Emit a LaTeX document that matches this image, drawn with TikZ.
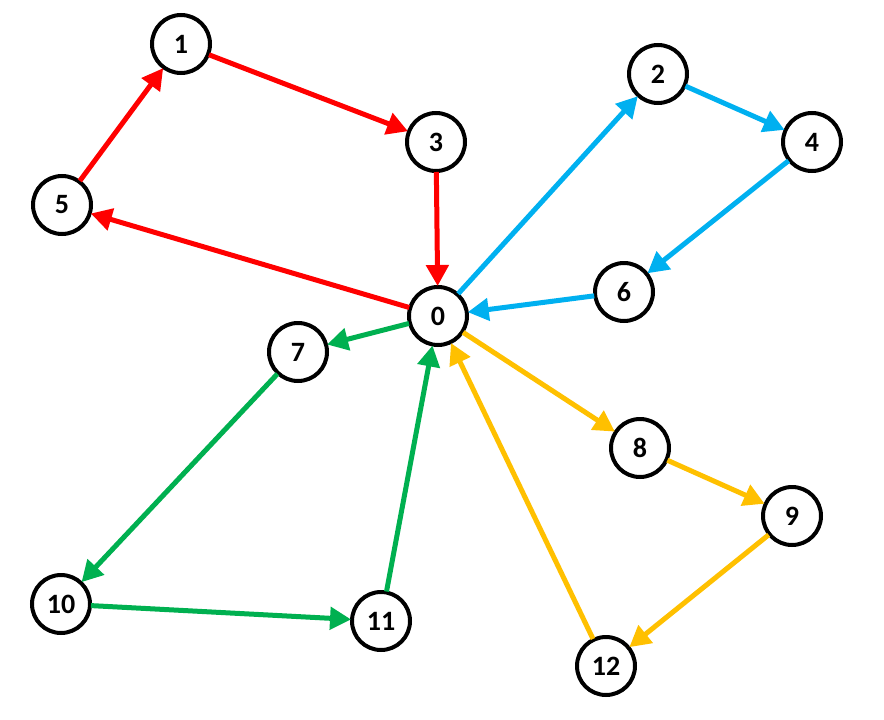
\documentclass[tikz,border=0pt]{standalone}
\usepackage{fontspec}
\setmainfont{Carlito}
\usetikzlibrary{arrows.meta}
\definecolor{cred}{RGB}{255,0,0}
\definecolor{cblue}{RGB}{0,176,240}
\definecolor{cgreen}{RGB}{0,176,80}
\definecolor{cgold}{RGB}{255,192,0}
\begin{document}
\begin{tikzpicture}[x=1pt,y=-1pt,
  vert/.style={circle,draw=black,line width=4pt,fill=white,minimum size=58pt,inner sep=0pt,outer sep=1pt,font=\fontsize{28}{28}\selectfont\bfseries},
  edge/.style={line width=5pt,-{Triangle[length=21pt,width=22pt]}}]
\useasboundingbox (0,0) rectangle (884,720);
\node[vert] (n0) at (438,316) {0};
\node[vert] (n1) at (181,44) {1};
\node[vert] (n2) at (658,74) {2};
\node[vert] (n3) at (436,142) {3};
\node[vert] (n4) at (812,142) {4};
\node[vert] (n5) at (62,205) {5};
\node[vert] (n6) at (624,292) {6};
\node[vert] (n7) at (298,352) {7};
\node[vert] (n8) at (640,448) {8};
\node[vert] (n9) at (792,516) {9};
\node[vert] (n10) at (61,604) {10};
\node[vert] (n11) at (381,621) {11};
\node[vert] (n12) at (606,666) {12};
\draw[edge,cred] (n1) -- (n3);
\draw[edge,cred] (n3) -- (n0);
\draw[edge,cred] (n0) -- (n5);
\draw[edge,cred] (n5) -- (n1);
\draw[edge,cblue] (n0) -- (n2);
\draw[edge,cblue] (n2) -- (n4);
\draw[edge,cblue] (n4) -- (n6);
\draw[edge,cblue] (n6) -- (n0);
\draw[edge,cgreen] (n0) -- (n7);
\draw[edge,cgreen] (n7) -- (n10);
\draw[edge,cgreen] (n10) -- (n11);
\draw[edge,cgreen] (n11) -- (n0);
\draw[edge,cgold] (n0) -- (n8);
\draw[edge,cgold] (n8) -- (n9);
\draw[edge,cgold] (n9) -- (n12);
\draw[edge,cgold] (n12) -- (n0);
\end{tikzpicture}
\end{document}
